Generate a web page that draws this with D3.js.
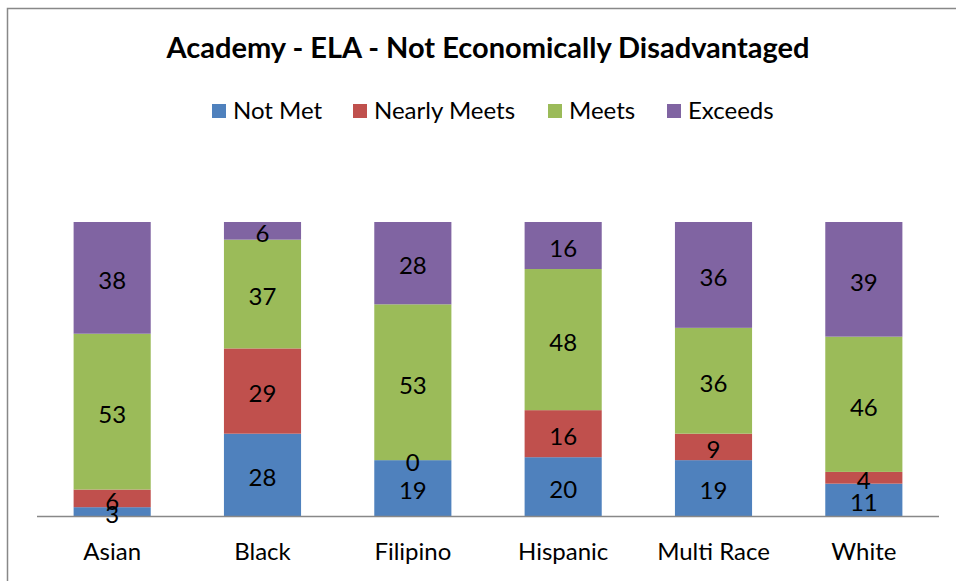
<!DOCTYPE html>
<html><head><meta charset="utf-8">
<script src="https://cdn.jsdelivr.net/npm/d3@7"></script>
<style>body{margin:0;background:#fff}svg{display:block}text{font-family:Lato,"Open Sans",sans-serif}</style>
</head><body><svg id="c" width="956" height="581"></svg>
<script>
const categories = ["Asian","Black","Filipino","Hispanic","Multi Race","White"];
const seriesNames = ["Not Met","Nearly Meets","Meets","Exceeds"];
const notMet = [3,28,19,20,19,11];
const nearlyMeets = [6,29,0,16,9,4];
const meets = [53,37,53,48,36,46];
const exceeds = [38,6,28,16,36,39];
const colors = ["#4F81BD","#C0504D","#9BBB59","#8064A2"];
const title = "Academy - ELA - Not Economically Disadvantaged";

const values = [notMet, nearlyMeets, meets, exceeds];
const rows = categories.map((c,i)=>{const r={cat:c}; seriesNames.forEach((s,j)=>r[s]=values[j][i]); return r;});
const stacked = d3.stack().keys(seriesNames)(rows);

const svg = d3.select("#c");
// frame
svg.append("rect").attr("x",7.5).attr("y",8.5).attr("width",960).attr("height",600)
  .attr("fill","none").attr("stroke","#888").attr("stroke-width",1.5);

const x = d3.scaleBand().domain(categories).range([37,939]).paddingInner(0.487).paddingOuter(0.2435);
const y = d3.scaleLinear().domain([0,100]).range([516,222]);

svg.append("text").attr("x",488).attr("y",58).attr("text-anchor","middle")
  .attr("font-size",29).attr("font-weight","bold").attr("fill","#000").text(title);

// legend
const legX = [212,353,548,667];
seriesNames.forEach((s,i)=>{
  const g = svg.append("g").attr("transform",`translate(${legX[i]},104)`);
  g.append("rect").attr("width",14).attr("height",14).attr("fill",colors[i]);
  g.append("text").attr("x",21).attr("y",14.6).attr("font-size",24).attr("fill","#000").text(s);
});

const layers = svg.selectAll("g.layer").data(stacked).join("g").attr("class","layer")
  .attr("fill",(d,i)=>colors[i]);
layers.selectAll("rect").data(d=>d).join("rect")
  .attr("x",d=>x(d.data.cat)).attr("width",x.bandwidth())
  .attr("y",d=>y(d[1])).attr("height",d=>y(d[0])-y(d[1]));

// axis line
svg.append("line").attr("x1",37).attr("x2",939).attr("y1",516.5).attr("y2",516.5)
  .attr("stroke","#888").attr("stroke-width",1.5);

// labels
stacked.forEach((layer)=>{
  layer.forEach(d=>{
    svg.append("text").attr("x",x(d.data.cat)+x.bandwidth()/2)
      .attr("y",(y(d[0])+y(d[1]))/2).attr("dy","0.47em").attr("text-anchor","middle")
      .attr("font-size",24).attr("fill","#000").text(d[1]-d[0]);
  });
});

// category labels
const xAxis = d3.axisBottom(x).tickSize(0).tickPadding(0);
const ax = svg.append("g").attr("transform","translate(0,516)").call(xAxis);
ax.select(".domain").remove();
ax.selectAll("text").attr("y",35).attr("dy","0.36em").attr("font-size",24).attr("fill","#000")
  .style("font-family","Lato,'Open Sans',sans-serif");
</script></body></html>
